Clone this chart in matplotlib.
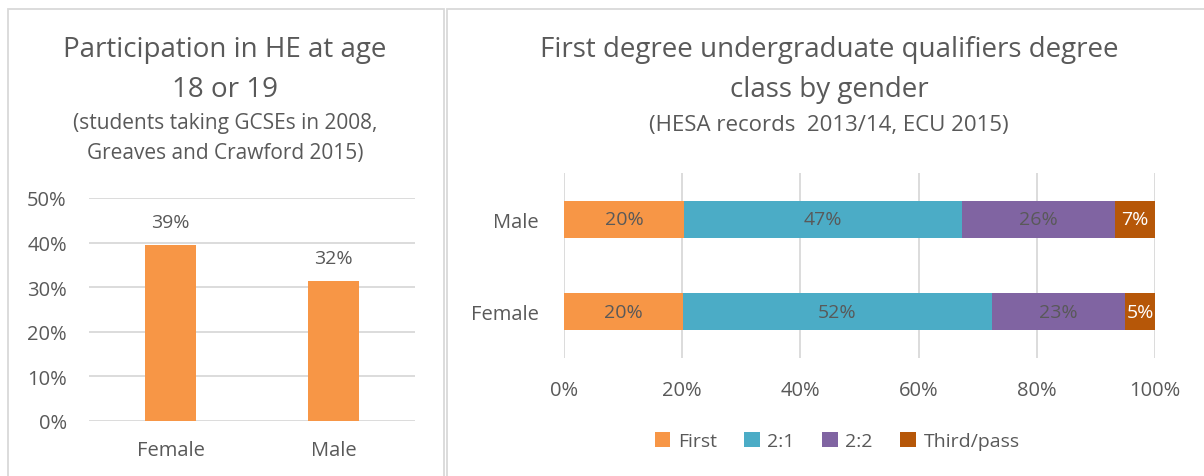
import matplotlib
matplotlib.use("Agg")
import matplotlib.pyplot as plt
from matplotlib.patches import Rectangle
from matplotlib.ticker import PercentFormatter

plt.rcParams['font.family'] = ['Open Sans', 'DejaVu Sans']

# ---- data ----
part_categories = ["Female", "Male"]
part_values = [0.394, 0.315]
part_labels = ["39%", "32%"]

deg_categories = ["Female", "Male"]
deg_series = ["First", "2:1", "2:2", "Third/pass"]
deg_first = [0.201, 0.203]
deg_21 = [0.523, 0.470]
deg_22 = [0.226, 0.259]
deg_third = [0.050, 0.068]
deg_labels = [["20%", "20%"], ["52%", "47%"], ["23%", "26%"], ["5%", "7%"]]

colors = ["#F79646", "#4BACC6", "#8064A2", "#B65708"]
TXT = "#595959"
GRID = "#D9D9D9"

W, H = 1204, 477
fig = plt.figure(figsize=(W / 100, H / 100), dpi=100)

def fx(px):
    return px / W

def fy(py):
    return 1 - py / H

# panel borders
for (x0, y0, x1, y1) in [(7.5, 9.5, 443.5, 480), (446.5, 9.5, 1210, 480)]:
    fig.patches.append(Rectangle((fx(x0), fy(y1)), fx(x1 - x0), fy(y0) - fy(y1),
                                 transform=fig.transFigure, fill=False,
                                 edgecolor=GRID, linewidth=1.3))

# ---- left chart ----
ax1 = fig.add_axes([fx(89), fy(422), fx(415 - 89), fy(199) - fy(422)])
xs = list(range(len(part_categories)))
ax1.bar(xs, part_values, width=0.31, color=colors[0], zorder=3)
ax1.set_xlim(-0.5, 1.5)
ax1.set_ylim(0, 0.5)
ax1.set_yticks([0, 0.1, 0.2, 0.3, 0.4, 0.5])
ax1.yaxis.set_major_formatter(PercentFormatter(1.0, decimals=0))
ax1.set_xticks(xs)
ax1.set_xticklabels(part_categories)
ax1.grid(axis='y', color=GRID, linewidth=1.3, zorder=0)
for s in ax1.spines.values():
    s.set_visible(False)
ax1.tick_params(axis='both', length=0, labelsize=14.5, colors=TXT)
ax1.tick_params(axis='y', pad=16)
ax1.tick_params(axis='x', pad=14)
for x, v, lab in zip(xs, part_values, part_labels):
    ax1.annotate(lab, (x, v), xytext=(0, 10), textcoords='offset points',
                 ha='center', va='bottom', fontsize=14, color=TXT)

fig.text(fx(225), fy(50), "Participation in HE at age", ha='center', va='center',
         fontsize=20, color=TXT)
fig.text(fx(225), fy(90), "18 or 19", ha='center', va='center', fontsize=20, color=TXT)
fig.text(fx(225), fy(124), "(students taking GCSEs in 2008,", ha='center', va='center',
         fontsize=15, color=TXT)
fig.text(fx(225), fy(154), "Greaves and Crawford 2015)", ha='center', va='center',
         fontsize=15, color=TXT)

# ---- right chart ----
ax2 = fig.add_axes([fx(564), fy(359), fx(1155 - 564), fy(174) - fy(359)])
ys = list(range(len(deg_categories)))
series_vals = [deg_first, deg_21, deg_22, deg_third]
left = [0.0] * len(ys)
for i, (name, vals) in enumerate(zip(deg_series, series_vals)):
    ax2.barh(ys, vals, left=left, height=0.4, color=colors[i], label=name, zorder=3)
    for y, l, v, lab in zip(ys, left, vals, deg_labels[i]):
        ax2.text(l + v / 2, y, lab, ha='center', va='center', fontsize=14,
                 color='white' if i == 3 else TXT, zorder=4)
    left = [a + b for a, b in zip(left, vals)]
ax2.set_xlim(0, 1)
ax2.set_ylim(-0.5, 1.5)
ax2.set_xticks([0, 0.2, 0.4, 0.6, 0.8, 1.0])
ax2.xaxis.set_major_formatter(PercentFormatter(1.0, decimals=0))
ax2.set_yticks(ys)
ax2.set_yticklabels(deg_categories)
ax2.grid(axis='x', color=GRID, linewidth=1.3, zorder=0)
for s in ax2.spines.values():
    s.set_visible(False)
ax2.tick_params(axis='both', length=0, labelsize=14.5, colors=TXT)
ax2.tick_params(axis='y', pad=18)
ax2.tick_params(axis='x', pad=16)

leg = ax2.legend(loc='center', bbox_to_anchor=(0.462, (fy(442) - fy(359)) / (fy(174) - fy(359))),
                 ncol=4, frameon=False, fontsize=14, handlelength=0.8, handleheight=0.8,
                 handletextpad=0.4, columnspacing=1.4)
for t in leg.get_texts():
    t.set_color(TXT)

fig.text(fx(829), fy(50), "First degree undergraduate qualifiers degree", ha='center',
         va='center', fontsize=20, color=TXT)
fig.text(fx(829), fy(90), "class by gender", ha='center', va='center', fontsize=20, color=TXT)
fig.text(fx(829), fy(125), "(HESA records  2013/14, ECU 2015)", ha='center', va='center',
         fontsize=16, color=TXT)

fig.savefig("out.png", dpi=100)
